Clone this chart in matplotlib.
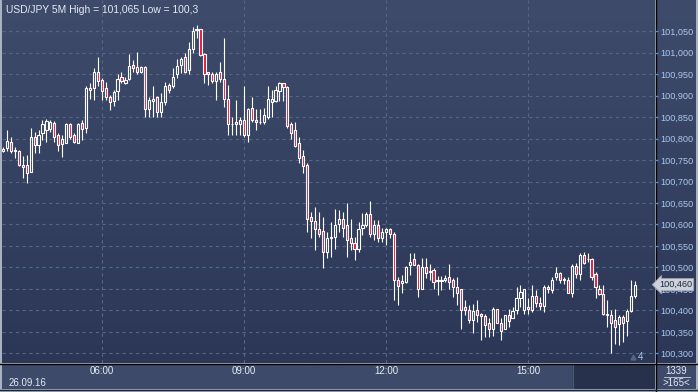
import numpy as np
import matplotlib
matplotlib.use("Agg")
import matplotlib.pyplot as plt
from matplotlib.lines import Line2D

# 5 minute USD/JPY candles, 03:55 .. 17:15
opens = [100.772, 100.777, 100.793, 100.772, 100.772, 100.738, 100.738, 100.723, 100.803, 100.784,
         100.812, 100.819, 100.822, 100.837, 100.807, 100.788, 100.790, 100.833, 100.807, 100.790,
         100.837, 100.824, 100.918, 100.918, 100.954, 100.936, 100.918, 100.897, 100.888, 100.911,
         100.942, 100.930, 100.938, 100.972, 100.967, 100.954, 100.967, 100.868, 100.888, 100.897,
         100.862, 100.886, 100.924, 100.921, 100.949, 100.972, 100.989, 100.959, 101.007, 101.052,
         101.054, 100.997, 100.954, 100.949, 100.934, 100.954, 100.938, 100.893, 100.833, 100.838,
         100.833, 100.843, 100.808, 100.872, 100.843, 100.838, 100.838, 100.851, 100.884, 100.888,
         100.911, 100.928, 100.919, 100.833, 100.820, 100.789, 100.759, 100.738, 100.618, 100.607,
         100.589, 100.585, 100.537, 100.571, 100.571, 100.602, 100.612, 100.599, 100.568, 100.558,
         100.542, 100.593, 100.599, 100.624, 100.577, 100.599, 100.568, 100.583, 100.589, 100.577,
         100.472, 100.463, 100.467, 100.506, 100.519, 100.506, 100.451, 100.502, 100.490, 100.494,
         100.469, 100.469, 100.471, 100.477, 100.472, 100.454, 100.449, 100.407, 100.402, 100.378,
         100.402, 100.393, 100.388, 100.372, 100.357, 100.403, 100.372, 100.357, 100.389, 100.383,
         100.401, 100.428, 100.401, 100.407, 100.401, 100.434, 100.418, 100.410, 100.454, 100.447,
         100.477, 100.488, 100.472, 100.472, 100.441, 100.503, 100.484, 100.529, 100.519, 100.519,
         100.484, 100.449, 100.438, 100.393, 100.389, 100.378, 100.368, 100.384, 100.376, 100.399,
         100.434]
highs = [100.780, 100.820, 100.803, 100.781, 100.773, 100.759, 100.762, 100.824, 100.814, 100.820,
         100.843, 100.845, 100.842, 100.841, 100.812, 100.808, 100.837, 100.837, 100.812, 100.837,
         100.843, 100.921, 100.930, 100.963, 100.989, 100.940, 100.932, 100.901, 100.913, 100.950,
         100.955, 100.942, 100.997, 100.983, 101.002, 100.969, 100.969, 100.897, 100.921, 100.899,
         100.905, 100.932, 100.928, 100.963, 100.984, 100.990, 100.998, 101.025, 101.059, 101.065,
         101.054, 100.999, 100.954, 100.954, 100.955, 100.979, 101.033, 100.924, 100.851, 100.890,
         100.851, 100.921, 100.872, 100.896, 100.868, 100.868, 100.872, 100.921, 100.913, 100.921,
         100.932, 100.930, 100.922, 100.839, 100.839, 100.804, 100.773, 100.742, 100.630, 100.641,
         100.630, 100.618, 100.583, 100.606, 100.637, 100.633, 100.630, 100.649, 100.612, 100.571,
         100.606, 100.626, 100.630, 100.654, 100.610, 100.610, 100.593, 100.593, 100.593, 100.583,
         100.478, 100.482, 100.503, 100.533, 100.533, 100.508, 100.523, 100.523, 100.508, 100.498,
         100.480, 100.480, 100.482, 100.508, 100.475, 100.477, 100.451, 100.424, 100.413, 100.416,
         100.424, 100.395, 100.393, 100.382, 100.407, 100.404, 100.382, 100.390, 100.403, 100.409,
         100.455, 100.459, 100.449, 100.428, 100.459, 100.447, 100.432, 100.459, 100.459, 100.478,
         100.502, 100.490, 100.478, 100.478, 100.509, 100.511, 100.534, 100.537, 100.533, 100.521,
         100.490, 100.459, 100.459, 100.424, 100.401, 100.403, 100.389, 100.389, 100.403, 100.472,
         100.469]
lows = [100.768, 100.772, 100.767, 100.754, 100.735, 100.707, 100.697, 100.722, 100.767, 100.767,
        100.797, 100.793, 100.815, 100.793, 100.771, 100.758, 100.789, 100.799, 100.789, 100.789,
        100.797, 100.812, 100.893, 100.890, 100.921, 100.890, 100.890, 100.866, 100.876, 100.890,
        100.928, 100.927, 100.935, 100.955, 100.950, 100.952, 100.851, 100.850, 100.851, 100.851,
        100.851, 100.878, 100.905, 100.917, 100.940, 100.952, 100.952, 100.949, 100.998, 101.033,
        100.993, 100.928, 100.924, 100.928, 100.890, 100.932, 100.874, 100.808, 100.808, 100.808,
        100.808, 100.804, 100.793, 100.839, 100.820, 100.833, 100.833, 100.845, 100.851, 100.886,
        100.888, 100.888, 100.824, 100.798, 100.781, 100.742, 100.719, 100.583, 100.568, 100.541,
        100.572, 100.498, 100.521, 100.525, 100.544, 100.583, 100.571, 100.525, 100.540, 100.517,
        100.537, 100.575, 100.595, 100.571, 100.564, 100.560, 100.560, 100.552, 100.568, 100.424,
        100.413, 100.440, 100.465, 100.482, 100.505, 100.432, 100.449, 100.475, 100.471, 100.451,
        100.436, 100.447, 100.467, 100.449, 100.432, 100.413, 100.358, 100.389, 100.370, 100.348,
        100.374, 100.331, 100.339, 100.339, 100.340, 100.370, 100.331, 100.356, 100.362, 100.382,
        100.393, 100.409, 100.393, 100.393, 100.397, 100.409, 100.401, 100.397, 100.440, 100.440,
        100.471, 100.463, 100.461, 100.440, 100.432, 100.475, 100.471, 100.509, 100.513, 100.472,
        100.428, 100.436, 100.389, 100.362, 100.300, 100.323, 100.320, 100.327, 100.340, 100.397,
        100.428]
closes = [100.775, 100.794, 100.772, 100.773, 100.738, 100.733, 100.719, 100.803, 100.784, 100.808,
          100.833, 100.841, 100.838, 100.803, 100.784, 100.799, 100.833, 100.803, 100.793, 100.833,
          100.821, 100.918, 100.913, 100.954, 100.934, 100.910, 100.897, 100.884, 100.909, 100.938,
          100.934, 100.936, 100.969, 100.963, 100.954, 100.967, 100.868, 100.890, 100.893, 100.862,
          100.886, 100.921, 100.913, 100.944, 100.969, 100.984, 100.954, 101.007, 101.050, 101.054,
          100.994, 100.949, 100.949, 100.934, 100.949, 100.938, 100.893, 100.833, 100.834, 100.833,
          100.843, 100.808, 100.868, 100.843, 100.838, 100.838, 100.854, 100.893, 100.893, 100.913,
          100.928, 100.919, 100.828, 100.812, 100.783, 100.754, 100.737, 100.612, 100.607, 100.589,
          100.577, 100.537, 100.568, 100.568, 100.599, 100.612, 100.593, 100.564, 100.558, 100.542,
          100.589, 100.599, 100.624, 100.577, 100.599, 100.568, 100.583, 100.589, 100.577, 100.472,
          100.458, 100.469, 100.502, 100.512, 100.506, 100.449, 100.502, 100.488, 100.490, 100.467,
          100.469, 100.469, 100.475, 100.467, 100.454, 100.441, 100.402, 100.402, 100.378, 100.399,
          100.389, 100.388, 100.366, 100.357, 100.403, 100.372, 100.353, 100.389, 100.376, 100.399,
          100.428, 100.444, 100.449, 100.403, 100.434, 100.418, 100.410, 100.454, 100.449, 100.472,
          100.488, 100.472, 100.472, 100.441, 100.503, 100.484, 100.529, 100.511, 100.519, 100.477,
          100.454, 100.438, 100.393, 100.389, 100.372, 100.362, 100.384, 100.372, 100.399, 100.434,
          100.460]

time_ticks = [25, 61, 97, 133]
time_labels = ["06:00", "09:00", "12:00", "15:00"]
price_ticks = [100.30, 100.35, 100.40, 100.45, 100.50, 100.55, 100.60, 100.65,
               100.70, 100.75, 100.80, 100.85, 100.90, 100.95, 101.00, 101.05]
last_price = 100.460

W, H = 698, 392
BG_TOP = np.array([62, 75, 106]) / 255
BG_BOT = np.array([44, 55, 87]) / 255
RED = "#e8163e"
GRID = "#566488"
AXISTXT = "#a9c8ee"
TXT = "#e4eaf4"


def px(x0, y0, w, h):
    # pixel box (top-left origin) -> figure fraction
    return [x0 / W, 1 - (y0 + h) / H, w / W, h / H]


def gradient(a):
    g = np.linspace(0, 1, 256)[:, None, None]
    img = BG_TOP * (1 - g) + BG_BOT * g
    a.imshow(img, extent=(0, 1, 0, 1), transform=a.transAxes, aspect="auto", zorder=0)


fig = plt.figure(figsize=(W / 100, H / 100), dpi=100, facecolor="#a9b2c2")
plt.rcParams["font.family"] = ["Liberation Sans", "DejaVu Sans"]

# right price panel
axr = fig.add_axes(px(656, 0, 40, 363))
gradient(axr)
axr.set_axis_off()

# bottom time panel
axb = fig.add_axes(px(2, 364, 653, 25))
axb.set_facecolor("#3d4a69")
axb.set_xlim(-0.25, 165.06)
axb.set_ylim(0, 1)
axb.axvspan(144.4, 165.06, color="#27314b")
axb.axvline(144.4, color="#4d5874", lw=0.8)
for i, lab in zip(time_ticks, time_labels):
    axb.text(i, 0.7, lab, color=TXT, fontsize=7, ha="center", va="center")
axb.text(1.5, 0.25, "26.09.16", color=TXT, fontsize=7, ha="left", va="center")
axb.set_xticks([])
axb.set_yticks([])
for s in axb.spines.values():
    s.set_visible(False)

# corner cell
axc = fig.add_axes(px(656, 364, 40, 25))
axc.set_xlim(0, 1)
axc.set_ylim(0, 1)
axc.set_facecolor("#3d4a69")
axc.set_xticks([])
axc.set_yticks([])
for s in axc.spines.values():
    s.set_visible(False)
axc.text(0.5, 0.72, "1339", color=TXT, fontsize=7, ha="center", va="center",
         transform=axc.transAxes)
axc.plot([0.2, 0.86], [0.5, 0.5], color="#c8d0dc", lw=0.6, transform=axc.transAxes)
axc.text(0.5, 0.25, ">165<", color=TXT, fontsize=7, ha="center", va="center",
         transform=axc.transAxes)

# main chart
ax = fig.add_axes(px(2, 0, 653, 363))
ax.set_zorder(3)
gradient(ax)
ax.set_xlim(-0.25, 165.06)
ax.set_ylim(100.2779, 101.1221)

for p in price_ticks:
    ax.axhline(p, color=GRID, lw=0.8, ls=(0, (3, 3)), zorder=1)
for i in time_ticks:
    ax.axvline(i, color=GRID, lw=0.8, ls=(0, (3, 3)), zorder=1)

o = np.array(opens)
h = np.array(highs)
l = np.array(lows)
c = np.array(closes)
x = np.arange(len(o))
top = np.maximum(o, c)
bot = np.minimum(o, c)
ax.vlines(x, top, h, color="white", lw=0.8, zorder=2)
ax.vlines(x, l, bot, color="white", lw=0.8, zorder=2)
height = np.maximum(top - bot, 0.0015)
faces = [RED if cc < oo else "none" for oo, cc in zip(o, c)]
ax.bar(x, height, bottom=bot, width=0.55, color=faces, edgecolor="white", linewidth=0.8, zorder=3)

ax.yaxis.tick_right()
ax.set_yticks(price_ticks)
ax.set_yticklabels([("%.3f" % p).replace(".", ",") for p in price_ticks])
ax.tick_params(axis="y", direction="out", length=2, width=1, color="#4f8ddc",
               labelcolor=AXISTXT, labelsize=6.6, pad=1.5)
ax.set_xticks([])
for s in ax.spines.values():
    s.set_visible(False)

ax.text(0.006, 0.987, "USD/JPY 5M High = 101,065 Low = 100,3", transform=ax.transAxes,
        color=TXT, fontsize=7.4, ha="left", va="top", zorder=5)

ax.plot([159.5], [100.292], marker="^", ms=3.5, color="#59637d", clip_on=False, zorder=4)
ax.text(161.5, 100.292, "4", color=AXISTXT, fontsize=7, ha="center", va="center", zorder=5)

ax.text(1.006, last_price, "100,460", transform=ax.get_yaxis_transform(), color="#1d2640",
        fontsize=6.6, ha="left", va="center", zorder=10, clip_on=False,
        bbox=dict(boxstyle="larrow,pad=0.18", fc="#cdd1da", ec="#9aa2b2", lw=0.6))

# separators
fig.add_artist(Line2D([655.5 / W] * 2, [0, 1], color="black", lw=1))
fig.add_artist(Line2D([0, 1], [1 - 363.5 / H] * 2, color="black", lw=1))
fig.add_artist(Line2D([0, 1], [1 - 389.5 / H] * 2, color="#1c2438", lw=1))

fig.savefig("out.png", dpi=100, facecolor=fig.get_facecolor())
